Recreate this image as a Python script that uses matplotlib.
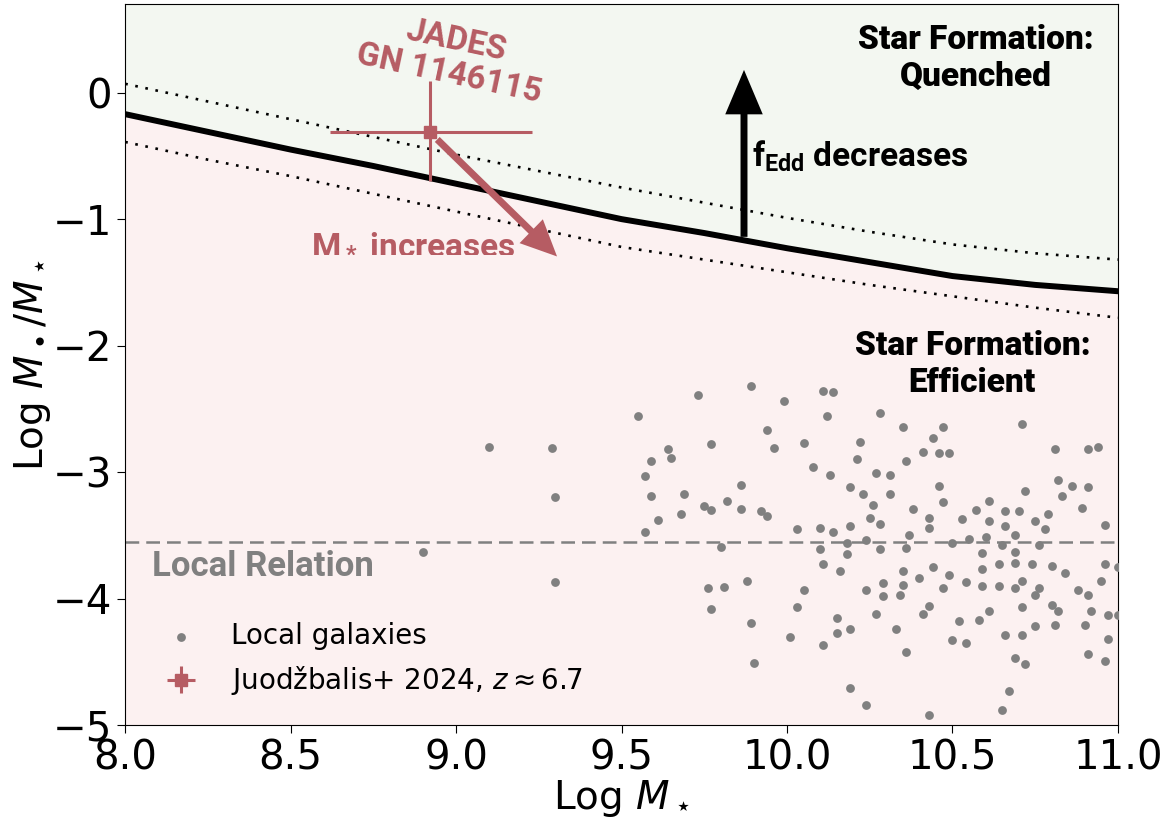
import numpy as np
import matplotlib
matplotlib.use('Agg')
from matplotlib import pyplot as plt

plt.rcParams['mathtext.fontset'] = 'custom'
plt.rcParams['mathtext.rm'] = 'DejaVu Sans'
plt.rcParams['mathtext.it'] = 'DejaVu Sans:italic'
plt.rcParams['mathtext.bf'] = 'Roboto:bold'

# boundary between efficient / quenched star formation (+ scatter band)
mstar_grid = [8.0, 8.25, 8.5, 8.75, 9.0, 9.25, 9.5, 9.75, 10.0, 10.25, 10.5, 10.75, 11.0]
boundary = [-0.17, -0.31, -0.45, -0.58, -0.72, -0.86, -1.00, -1.11, -1.23, -1.34, -1.45, -1.52, -1.57]
boundary_hi = [0.07, -0.07, -0.21, -0.35, -0.49, -0.62, -0.75, -0.87, -0.99, -1.10, -1.20, -1.27, -1.32]
boundary_lo = [-0.39, -0.53, -0.66, -0.80, -0.94, -1.08, -1.22, -1.32, -1.42, -1.52, -1.61, -1.70, -1.78]

local_relation = -3.55

# local galaxies (log M*, log Mbh/M*)
local_x = [9.10, 9.29, 9.30, 8.90, 9.30,
           9.89, 10.11, 10.14, 9.73, 9.99, 9.55, 10.12, 10.28, 10.35, 10.47,
           10.71, 9.94, 10.44, 10.22, 10.05, 9.77, 9.96, 10.94, 10.91, 10.81,
           9.64, 10.41, 10.46, 10.49, 9.59, 9.65, 10.21, 10.36, 10.08, 10.13,
           10.27, 10.31, 9.57, 10.82, 10.86, 10.91, 9.86, 10.19, 10.46, 10.23,
           10.31, 10.72, 9.69, 9.59, 10.83, 9.82, 10.47, 10.61, 9.75, 9.77,
           9.86, 10.26, 10.38, 10.89, 9.92, 9.68, 9.94, 10.57, 10.66, 10.70,
           10.79, 10.25, 10.43, 10.53, 9.61, 10.61, 10.75, 10.28, 10.96, 10.19,
           10.66, 10.10, 10.43, 10.03, 10.14, 10.78, 9.57, 10.37, 10.60, 10.69,
           10.55, 10.18, 10.24, 10.50, 10.65, 10.76, 9.80, 10.10, 10.28, 10.36,
           10.69, 10.59, 10.18, 10.11, 10.64, 10.69, 10.74, 10.80, 10.96, 11.00,
           10.44, 10.16, 10.35, 10.59, 10.84, 10.49, 10.40, 10.95, 10.71, 9.88,
           10.54, 10.29, 10.35, 10.59, 10.64, 10.69, 9.76, 9.81, 10.05, 10.24,
           10.47, 10.76, 10.88, 10.29, 10.34, 10.75, 10.91, 9.77, 10.03, 10.43,
           10.71, 10.80, 10.41, 10.27, 10.61, 10.82, 10.92, 10.97, 11.00, 10.15,
           10.52, 10.58, 9.89, 10.75, 10.81, 10.90, 10.19, 10.33, 10.15, 10.01,
           10.66, 10.71, 10.97, 10.50, 10.54, 10.11, 10.36, 10.91, 10.69, 10.72,
           10.96, 9.90, 10.19, 10.67, 10.24, 10.65, 10.43]
local_y = [-2.80, -2.81, -3.20, -3.63, -3.87,
           -2.32, -2.36, -2.37, -2.39, -2.44, -2.56, -2.56, -2.53, -2.64, -2.64,
           -2.62, -2.67, -2.73, -2.76, -2.77, -2.78, -2.81, -2.80, -2.82, -2.82,
           -2.82, -2.84, -2.85, -2.85, -2.91, -2.89, -2.90, -2.91, -2.96, -3.02,
           -3.01, -3.02, -3.03, -3.06, -3.11, -3.12, -3.10, -3.12, -3.11, -3.17,
           -3.17, -3.15, -3.17, -3.19, -3.19, -3.23, -3.24, -3.23, -3.27, -3.30,
           -3.29, -3.26, -3.29, -3.28, -3.31, -3.33, -3.35, -3.30, -3.31, -3.31,
           -3.33, -3.36, -3.36, -3.37, -3.38, -3.39, -3.39, -3.41, -3.42, -3.43,
           -3.43, -3.44, -3.44, -3.45, -3.47, -3.45, -3.47, -3.50, -3.51, -3.50,
           -3.53, -3.56, -3.54, -3.56, -3.58, -3.58, -3.59, -3.61, -3.61, -3.60,
           -3.63, -3.64, -3.65, -3.73, -3.73, -3.72, -3.73, -3.74, -3.73, -3.75,
           -3.75, -3.78, -3.78, -3.77, -3.80, -3.81, -3.84, -3.86, -3.86, -3.86,
           -3.87, -3.88, -3.89, -3.90, -3.90, -3.92, -3.92, -3.91, -3.93, -3.93,
           -3.92, -3.92, -3.93, -3.98, -3.97, -3.97, -3.97, -4.08, -4.07, -4.06,
           -4.07, -4.05, -4.12, -4.12, -4.10, -4.10, -4.10, -4.13, -4.13, -4.15,
           -4.18, -4.17, -4.19, -4.22, -4.21, -4.21, -4.24, -4.24, -4.27, -4.30,
           -4.29, -4.29, -4.32, -4.33, -4.35, -4.37, -4.42, -4.44, -4.47, -4.52,
           -4.49, -4.51, -4.71, -4.73, -4.84, -4.88, -4.92]

# JADES GN 1146115 (Juodzbalis+ 2024)
jades_x = 8.92
jades_y = -0.31
jades_xerr = [[0.30], [0.31]]
jades_yerr = [[0.39], [0.40]]

RED = '#b65c63'
GRAY = '#808080'
GREEN_BG = '#f3f7f1'
PINK_BG = '#fcf1f1'
ANN_FONT = 'Roboto'


def main():
    fig, ax = plt.subplots(figsize=(11.7, 8.23), dpi=100)
    plt.subplots_adjust(left=0.107, right=0.9555, top=0.995, bottom=0.119)

    ymin, ymax = -5.0, 0.7
    ax.fill_between(mstar_grid, boundary, ymax, color=GREEN_BG, lw=0, zorder=0)
    ax.fill_between(mstar_grid, ymin, boundary, color=PINK_BG, lw=0, zorder=0)

    ax.plot(mstar_grid, boundary, color='black', lw=4.3, zorder=3,
            solid_joinstyle='round')
    ax.plot(mstar_grid, boundary_hi, color='black', lw=1.9, ls=(0, (1.0, 2.9)), zorder=3)
    ax.plot(mstar_grid, boundary_lo, color='black', lw=1.9, ls=(0, (1.0, 2.9)), zorder=3)

    ax.axhline(local_relation, color=GRAY, lw=1.8, ls=(0, (5.5, 2.8)), zorder=2)
    ax.text(8.08, -3.75, 'Local Relation', color=GRAY, fontsize=25,
            fontfamily=ANN_FONT, fontweight='bold', ha='left', va='center')

    ax.scatter(local_x, local_y, s=40, color=GRAY, lw=0, zorder=4, label='Local galaxies')

    ax.errorbar([jades_x], [jades_y], xerr=jades_xerr, yerr=jades_yerr, fmt='s',
                color=RED, ms=8.5, elinewidth=2.2, capsize=0, zorder=6,
                label=r'Juodžbalis+ 2024, $z \approx 6.7$')

    # annotations
    ax.text(8.99, 0.28, 'JADES\nGN 1146115', color=RED, fontsize=24,
            fontfamily=ANN_FONT, fontweight='bold', ha='center', va='center',
            rotation=-12, rotation_mode='anchor', linespacing=1.1)
    ax.annotate('', xy=(9.305, -1.295), xytext=(8.943, -0.37),
                arrowprops=dict(color=RED, width=5, headwidth=24, headlength=26, lw=0),
                zorder=7)
    ax.text(8.87, -1.19, r'$\mathbf{M_*}$ increases', color=RED, fontsize=24,
            fontfamily=ANN_FONT, fontweight='bold', ha='center', va='center')

    ax.annotate('', xy=(9.87, 0.18), xytext=(9.87, -1.14),
                arrowprops=dict(color='black', width=5, headwidth=27, headlength=32, lw=0),
                zorder=7)
    ax.text(9.895, -0.5, r'$\mathbf{f_{Edd}}$ decreases', color='black', fontsize=24,
            fontfamily=ANN_FONT, fontweight='bold', ha='left', va='center')

    ax.text(10.57, 0.27, 'Star Formation:\nQuenched', color='black', fontsize=24,
            fontfamily=ANN_FONT, fontweight='heavy', ha='center', va='center',
            linespacing=1.2)
    ax.text(10.56, -2.15, 'Star Formation:\nEfficient', color='black', fontsize=24,
            fontfamily=ANN_FONT, fontweight='heavy', ha='center', va='center',
            linespacing=1.2)

    ax.set_xlim(8.0, 11.0)
    ax.set_ylim(ymin, ymax)
    ax.set_xticks([8.0, 8.5, 9.0, 9.5, 10.0, 10.5, 11.0])
    ax.set_yticks([0, -1, -2, -3, -4, -5])
    ax.tick_params(axis='both', which='major', labelsize=29, length=6)
    ax.set_xlabel(r'Log $M_\star$', fontsize=28, labelpad=0)
    ax.set_ylabel(r'Log $M_\bullet/M_\star$', fontsize=28, labelpad=0)

    ax.legend(loc='lower left', frameon=False, fontsize=20, borderaxespad=0.6)

    plt.savefig('out.png', dpi=100)


if __name__ == '__main__':
    main()
